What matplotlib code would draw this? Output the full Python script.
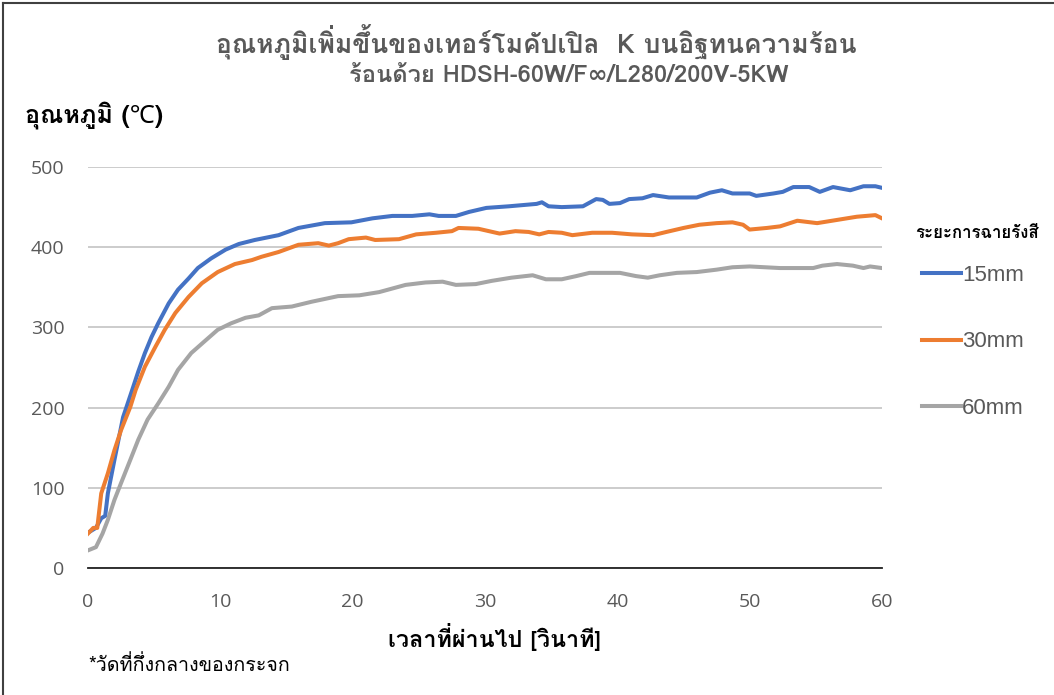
import matplotlib
matplotlib.use("Agg")
import matplotlib.pyplot as plt
from matplotlib.lines import Line2D

# Readings: time [s] and temperature [C] for each distance
t15 = [0, 0.6, 1.0, 1.3, 1.5, 2.0, 2.65, 3.3, 3.8, 4.3, 4.8, 5.3, 6.1, 6.8, 7.6, 8.3, 9.3, 10.4, 11.4, 12.6,
       14.4, 15.9, 17.9, 19.9, 21.5, 23.0, 24.5, 25.8, 26.5, 27.8, 28.8, 30.1, 31.8, 33.9, 34.3, 34.8, 35.8,
       37.4, 38.4, 38.9, 39.4, 40.2, 40.9, 41.9, 42.7, 43.9, 46.0, 47.0, 47.9, 48.7, 50.0, 50.5, 51.8, 52.5,
       53.3, 54.5, 55.3, 56.3, 57.6, 58.6, 59.5, 60.0]
v15 = [44, 50, 62, 65, 93, 135, 188, 220, 245, 268, 288, 305, 330, 347, 361, 374, 386, 397, 404, 409,
       415, 424, 430, 431, 436, 439, 439, 441, 439, 439, 444, 449, 451, 454, 456, 451, 450,
       451, 460, 459, 454, 455, 460, 461, 465, 462, 462, 468, 471, 467, 467, 464, 467, 469,
       475, 475, 469, 475, 471, 476, 476, 474]

t30 = [0, 0.4, 0.7, 1.0, 1.5, 2.0, 2.5, 3.2, 3.6, 4.3, 5.1, 5.8, 6.6, 7.6, 8.6, 9.8, 11.1, 12.4, 13.1,
       14.4, 15.9, 17.4, 18.2, 18.9, 19.7, 21.0, 21.7, 23.5, 24.8, 26.3, 27.5, 28.0, 29.5, 31.1, 32.3,
       33.3, 34.1, 34.8, 35.8, 36.6, 38.1, 39.6, 41.1, 42.7, 43.7, 45.0, 46.2, 47.5, 48.7, 49.5, 50.0,
       51.3, 52.3, 53.6, 55.1, 56.6, 58.1, 59.5, 60.0]
v30 = [43, 50, 50, 93, 118, 147, 172, 201, 222, 251, 276, 297, 318, 338, 355, 369, 379, 384, 388,
       394, 403, 405, 402, 405, 410, 412, 409, 410, 416, 418, 420, 424, 423, 417, 420,
       419, 416, 419, 418, 415, 418, 418, 416, 415, 419, 424, 428, 430, 431, 428, 422,
       424, 426, 433, 430, 434, 438, 440, 436]

t60 = [0, 0.6, 1.1, 1.5, 2.0, 2.5, 3.2, 3.8, 4.5, 5.3, 6.1, 6.8, 7.8, 8.9, 9.8, 10.8, 11.9, 12.9, 13.9,
       15.4, 16.9, 18.9, 20.5, 22.0, 24.0, 25.5, 26.8, 27.8, 29.3, 30.5, 32.0, 33.6, 34.6, 35.8, 36.9,
       37.9, 40.2, 41.4, 42.3, 43.2, 44.5, 46.0, 47.5, 48.7, 50.0, 52.3, 54.8, 55.5, 56.6, 57.8, 58.6,
       59.1, 60.0]
v60 = [22, 26, 43, 60, 85, 106, 135, 160, 185, 205, 226, 247, 268, 284, 297, 305, 312, 315, 324,
       326, 332, 339, 340, 344, 353, 356, 357, 353, 354, 358, 362, 365, 360, 360, 364,
       368, 368, 364, 362, 365, 368, 369, 372, 375, 376, 374, 374, 377, 379, 377, 374,
       376, 374]

labels = ["15mm", "30mm", "60mm"]
colors = ["#4472C4", "#ED7D31", "#A5A5A5"]

title1 = "อุณหภูมิเพิ่มขึ้นของเทอร์โมคัปเปิล  K บนอิฐทนความร้อน"
title2 = "ร้อนด้วย HDSH-60W/F∞/L280/200V-5KW"
ylabel = "อุณหภูมิ (℃)"
xlabel = "เวลาที่ผ่านไป [วินาที]"
legend_title = "ระยะการฉายรังสี"
note = "*วัดที่กึ่งกลางของกระจก"


# matplotlib does no Thai shaping, so use the old Windows private-use glyphs
# (low / left-shifted marks) that Loma still carries
TALL = "ปฝฟฬ"
UPPER = "ัิีึื็ํ"
UPPER_LEFT = {"ิ": "\uf701", "ี": "\uf702", "ึ": "\uf703", "ื": "\uf704",
              "ั": "\uf710", "ํ": "\uf711", "็": "\uf712"}
TONES = "่้๊๋์"

def shape_thai(s):
    out = []
    base = ""
    for ch in s:
        prev = out[-1] if out else ""
        if ch in UPPER and base in TALL:
            out.append(UPPER_LEFT[ch])
            continue
        if ch in TONES:
            k = TONES.index(ch)
            has_upper = prev in UPPER or prev in UPPER_LEFT.values()
            if base in TALL:
                out.append(chr(0xF713 + k) if has_upper else chr(0xF705 + k))
            else:
                out.append(ch if has_upper else chr(0xF70A + k))
            continue
        if not ("\u0e30" <= ch <= "\u0e4e" and ch not in "ะาำเแโใไๅ"):
            base = ch
        out.append(ch)
    return "".join(out)


plt.rcParams['font.family'] = ["Loma", "Noto Sans", "DejaVu Sans"]

W, H = 1054, 695
fig = plt.figure(figsize=(W / 100, H / 100), dpi=100)

def fx(px):
    return px / W

def fy(py):
    return 1 - py / H

def fit(txt, width, squeeze=1.05):
    # the source picture is stretched sideways, so meet its text widths most of the way
    r = fig.canvas.get_renderer()
    w = txt.get_window_extent(r).width
    txt.set_fontsize(txt.get_fontsize() * width / w / squeeze)

ax = fig.add_axes([fx(88), fy(568), fx(882) - fx(88), fy(167) - fy(568)])

for t, v, lab, c in zip([t15, t30, t60], [v15, v30, v60], labels, colors):
    ax.plot(t, v, color=c, lw=2.9, label=lab, solid_joinstyle="round")

ax.set_xlim(0, 60)
ax.set_ylim(0, 500)
ax.set_xticks(range(0, 61, 10))
ax.set_yticks(range(0, 501, 100))
ax.grid(axis="y", color="#c4c4c4", lw=1.2)
ax.set_axisbelow(True)
for s in ["top", "right", "left"]:
    ax.spines[s].set_visible(False)
ax.spines["bottom"].set_color("#222222")
ax.spines["bottom"].set_linewidth(1.3)
ax.tick_params(length=0, labelsize=14, labelcolor="#595959")
ax.tick_params(axis="x", pad=18)
ax.tick_params(axis="y", pad=17)
for lbl in ax.get_xticklabels() + ax.get_yticklabels():
    lbl.set_family(["Open Sans", "DejaVu Sans"])

t1 = fig.text(fx(536), fy(42), shape_thai(title1), ha="center", va="center", fontsize=16,
              color="#595959", fontweight="bold")
fit(t1, 673)
fig.text(fx(569), fy(76), shape_thai(title2), ha="center", va="center", fontsize=t1.get_fontsize() * 0.9,
         color="#595959", fontweight="bold")

texts = [
    (fig.text(fx(25), fy(115), shape_thai(ylabel), ha="left", va="center", fontsize=14,
              color="black", fontweight="bold"), 145),
    (fig.text(fx(495), fy(637), shape_thai(xlabel), ha="center", va="center", fontsize=14,
              color="black", fontweight="bold"), 224),
    (fig.text(fx(88), fy(665), shape_thai(note), ha="left", va="center", fontsize=14,
              color="black"), 212),
    (fig.text(fx(915), fy(233), shape_thai(legend_title), ha="left", va="center", fontsize=14,
              color="black", fontweight="bold"), 130),
]
for txt, width in texts:
    fit(txt, width)

leg = fig.legend(loc="upper left", bbox_to_anchor=(fx(922), fy(265)), frameon=False,
                 prop={"family": ["Liberation Sans"], "size": 16}, labelspacing=2.04,
                 handlelength=1.75, handletextpad=0.05, borderpad=0, borderaxespad=0)
for txt in leg.get_texts():
    txt.set_color("#595959")

# frame lines at the top and left edge of the picture
fig.add_artist(Line2D([fx(3), 1], [fy(3), fy(3)], color="#404040", lw=1.5))
fig.add_artist(Line2D([fx(3), fx(3)], [fy(3), 0], color="#404040", lw=1.5))

fig.savefig("out.png", dpi=100)
